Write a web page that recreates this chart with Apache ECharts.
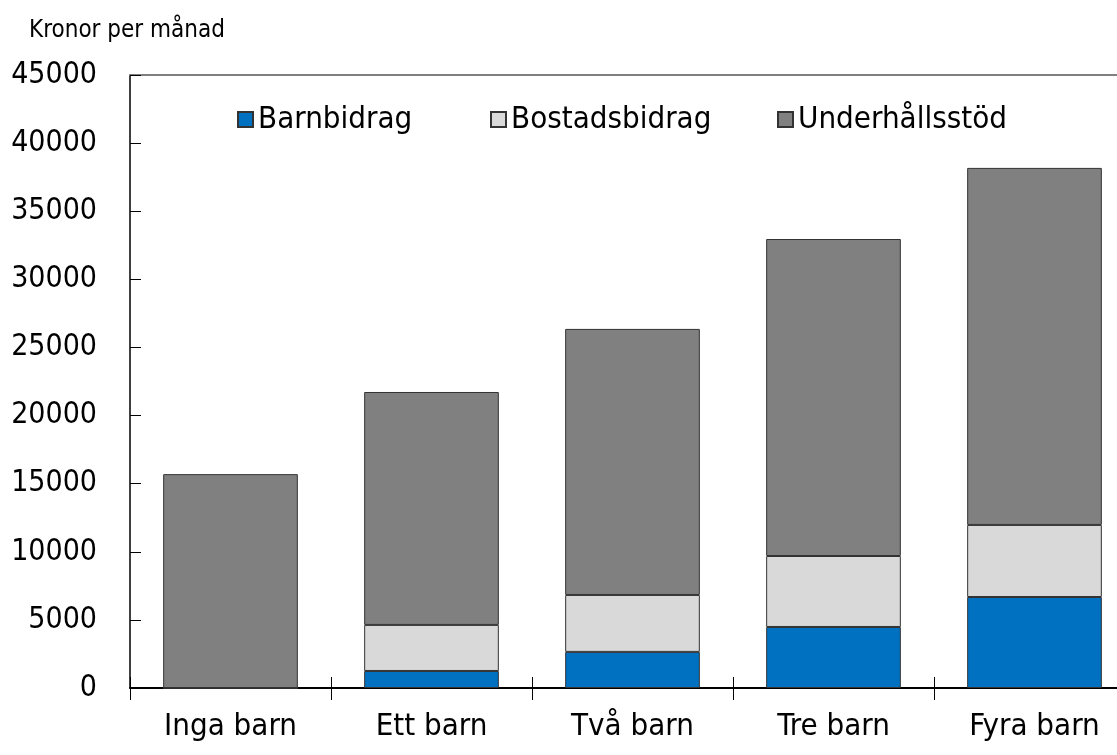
<!DOCTYPE html>
<html>
<head>
<meta charset="utf-8">
<script src="https://cdn.jsdelivr.net/npm/echarts@6/dist/echarts.min.js"></script>
<style>
  html, body { margin: 0; padding: 0; background: #fff; }
  #chart { width: 1117px; height: 755px; }
</style>
</head>
<body>
<div id="chart"></div>
<script>
// kategorier och värden (kronor per månad)
const categories = ["Inga barn", "Ett barn", "Två barn", "Tre barn", "Fyra barn"];
const barnbidrag = [0, 1250, 2650, 4480, 6680];
const bostadsbidrag = [0, 3380, 4180, 5210, 5290];
const underhallsstod = [15700, 17100, 19530, 23270, 26210];
const legendNames = ["Barnbidrag", "Bostadsbidrag", "Underhållsstöd"];
const legendLeft = [237, 490, 777];

const FONT = '"DejaVu Sans Condensed", sans-serif';

const chart = echarts.init(document.getElementById("chart"));

function barSerie(name, data, color) {
  return {
    name: name,
    type: "bar",
    stack: "total",
    barCategoryGap: "33%",
    itemStyle: { color: color, borderColor: "#333", borderWidth: 1 },
    data: data,
  };
}

chart.setOption({
  animation: false,
  textStyle: { fontFamily: FONT },
  title: {
    text: "Kronor per månad",
    left: 29,
    top: 19,
    padding: 0,
    textStyle: { fontFamily: FONT, fontSize: 24, fontWeight: "normal", color: "#000" },
  },
  legend: legendNames.map((n, i) => ({
    top: 104,
    left: legendLeft[i],
    padding: 0,
    itemWidth: 15,
    itemHeight: 15,
    icon: "rect",
    textStyle: { fontFamily: FONT, fontSize: 31, color: "#000" },
    data: [n],
  })),
  grid: { left: 130, right: -18, top: 75, bottom: 67, outerBoundsMode: "none", containLabel: false },
  xAxis: [
    {
      type: "category",
      data: categories,
      position: "bottom",
      axisLine: { lineStyle: { color: "#000", width: 2 } },
      axisTick: { show: true, length: 12, lineStyle: { color: "#000", width: 1 } },
      axisLabel: { interval: 0, margin: 23, fontFamily: FONT, fontSize: 31, color: "#000" },
    },
    {
      type: "category",
      data: categories,
      position: "bottom",
      axisLine: { show: false },
      axisTick: { show: true, inside: true, length: 11, lineStyle: { color: "#000", width: 1 } },
      axisLabel: { show: false },
    },
    {
      type: "category",
      data: categories,
      position: "top",
      axisLine: { lineStyle: { color: "#808080", width: 2 } },
      axisTick: { show: false },
      axisLabel: { show: false },
    },
  ],
  yAxis: {
    type: "value",
    min: 0,
    max: 45000,
    interval: 5000,
    axisLine: { show: true, lineStyle: { color: "#000", width: 1.5 } },
    axisTick: { show: true, inside: true, length: 11, lineStyle: { color: "#000", width: 1 } },
    splitLine: { show: false },
    axisLabel: {
      margin: 33,
      fontFamily: FONT,
      fontSize: 30,
      color: "#000",
      formatter: (v) => String(v),
    },
  },
  series: [
    barSerie("Barnbidrag", barnbidrag, "#0070C0"),
    barSerie("Bostadsbidrag", bostadsbidrag, "#D9D9D9"),
    barSerie("Underhållsstöd", underhallsstod, "#808080"),
  ],
});
</script>
</body>
</html>
